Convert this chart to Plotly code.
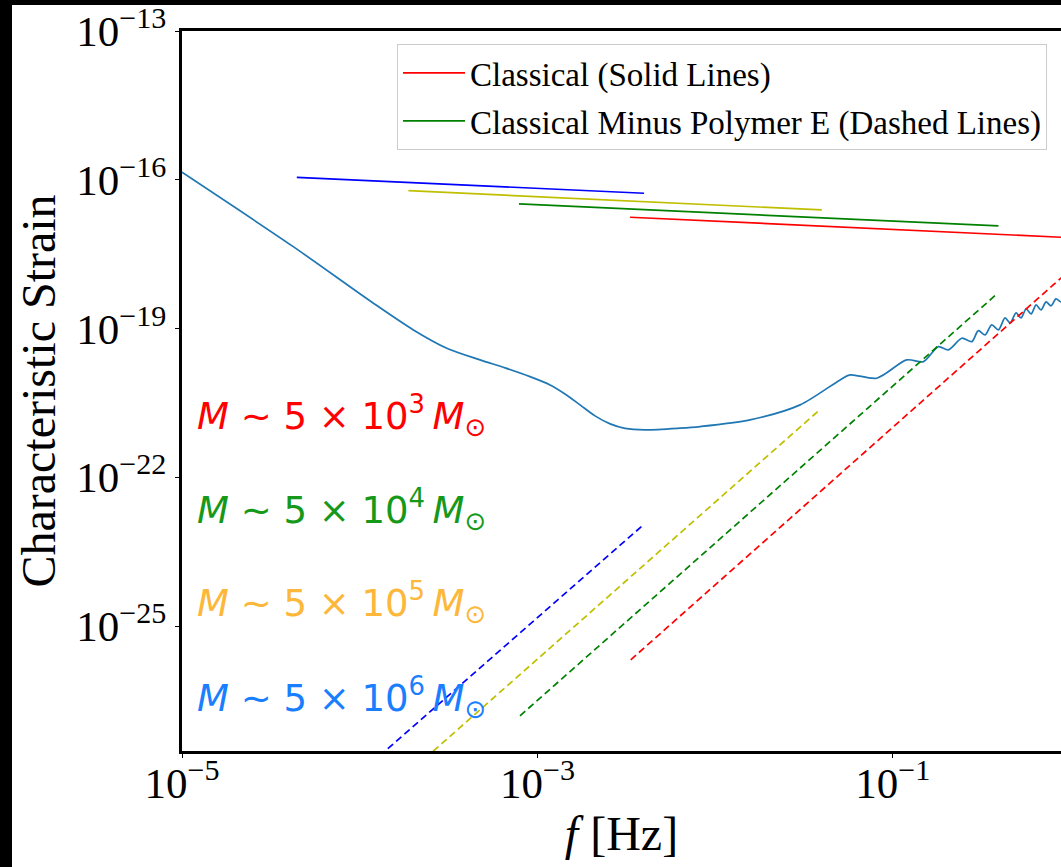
import numpy as np
import plotly.graph_objects as go

# ---------------- data (log10 values) ----------------
# Sensitivity curve
sens_log_f = [-5.0, -4.374, -3.923, -3.698, -3.510, -3.323, -3.182, -3.042, -2.929, -2.845, -2.760,
              -2.676, -2.591, -2.507, -2.394, -2.198, -2.085, -1.804, -1.522, -1.297, -1.241, -1.091,
              -0.922, -0.828, -0.744, -0.688, -0.612, -0.556, -0.519, -0.481, -0.444,
              -0.406, -0.369, -0.340, -0.307, -0.279, -0.250, -0.222, -0.194, -0.166,
              -0.138, -0.110, -0.082, -0.054, -0.030]
sens_log_h = [-15.85, -17.349, -18.490, -19.028, -19.397, -19.633, -19.794, -19.970, -20.137, -20.319, -20.540,
              -20.762, -20.923, -21.014, -21.044, -21.010, -20.978, -20.843, -20.540, -20.036, -19.935, -20.002,
              -19.633, -19.667, -19.365, -19.431, -19.196, -19.264, -19.042, -19.129, -18.927,
              -19.028, -18.786, -18.887, -18.685, -18.786, -18.605, -18.706, -18.524, -18.625,
              -18.464, -18.544, -18.403, -18.464, -18.35]

# Classical (solid) lines: [start, end]
solid_colors = ["#0000ff", "#bfbf00", "#008000", "#ff0000"]
solid_log_f = [[-4.354, -2.400], [-3.726, -1.400], [-3.104, -0.406], [-2.479, 0.0]]
solid_log_h = [[-15.950, -16.272], [-16.220, -16.609], [-16.488, -16.931], [-16.756, -17.168]]

# Classical minus polymer E (dashed) lines: [start, end]
dashed_log_f = [[-4.354, -2.404], [-3.726, -1.406], [-3.098, -0.410], [-2.475, 0.0]]
dashed_log_h = [[-29.08, -22.960], [-27.965, -20.621], [-26.810, -18.288], [-25.681, -17.81]]

legend_labels = ["Classical (Solid Lines)", "Classical Minus Polymer E (Dashed Lines)"]

mass_labels = ["3", "4", "5", "6"]
mass_colors = ["#ff0000", "#16991a", "#fdb73a", "#1a7fff"]

y_tick_exps = [-13, -16, -19, -22, -25]
x_tick_exps = [-5, -3, -1]

# ---------------- figure ----------------
fig = go.Figure()

serif = "Liberation Serif"

fig.add_trace(go.Scatter(
    x=10 ** np.array(sens_log_f), y=10 ** np.array(sens_log_h),
    mode="lines", line=dict(color="#1f77b4", width=1.7, shape="spline", smoothing=0.8),
    showlegend=False, hoverinfo="skip"))

for i in range(4):
    fig.add_trace(go.Scatter(
        x=10 ** np.array(solid_log_f[i]), y=10 ** np.array(solid_log_h[i]),
        mode="lines", line=dict(color=solid_colors[i], width=1.7),
        showlegend=False, hoverinfo="skip"))
    fig.add_trace(go.Scatter(
        x=10 ** np.array(dashed_log_f[i]), y=10 ** np.array(dashed_log_h[i]),
        mode="lines", line=dict(color=solid_colors[i], width=1.7, dash="7px,4px"),
        showlegend=False, hoverinfo="skip"))

# legend entries
fig.add_trace(go.Scatter(x=[None], y=[None], mode="lines", legendgroup="a",
                         line=dict(color="#ff0000", width=1.7), name=legend_labels[0]))
fig.add_trace(go.Scatter(x=[None], y=[None], mode="lines", legendgroup="b",
                         line=dict(color="#008000", width=1.7), name=legend_labels[1]))

# mass annotations
ann_y = [0.4653, 0.3361, 0.2069, 0.075]
annotations = []
for lab, col, yy in zip(mass_labels, mass_colors, ann_y):
    annotations.append(dict(
        xref="paper", yref="paper", x=0.0148, y=yy, xanchor="left", yanchor="middle",
        text="<i>M</i> ∼ 5 × 10<sup>" + lab + "</sup>\u2009<i>M</i><sub>⊙</sub>",
        showarrow=False, font=dict(family="DejaVu Sans", size=37, color=col)))

fig.update_layout(
    width=1061, height=867,
    margin=dict(l=182, r=0, t=31, b=116),
    paper_bgcolor="white", plot_bgcolor="white",
    annotations=annotations,
    legend=dict(x=0.2446, y=0.982, xanchor="left", yanchor="top",
                bgcolor="white", bordercolor="#cccccc", borderwidth=1,
                itemwidth=62, tracegroupgap=2,
                font=dict(family=serif, size=33, color="black")),
    shapes=[
        dict(type="rect", xref="paper", yref="paper", x0=-0.2071, x1=-0.1934,
             y0=-0.161, y1=1.043, fillcolor="black", line=dict(width=0), layer="above"),
        dict(type="rect", xref="paper", yref="paper", x0=-0.2071, x1=1.0,
             y0=1.036, y1=1.043, fillcolor="black", line=dict(width=0), layer="above"),
    ],
)

fig.update_xaxes(
    type="log", range=[-5, -0.054],
    tickvals=[10.0 ** e for e in x_tick_exps],
    ticktext=["10<sup>−%d</sup>" % (-e) for e in x_tick_exps],
    tickfont=dict(family=serif, size=43, color="black"),
    ticks="outside", ticklen=4, tickwidth=1, tickcolor="black",
    ticklabelstandoff=-12,
    showline=True, linecolor="black", linewidth=3, mirror=True,
    showgrid=False, zeroline=False,
    title=dict(text="<i>f</i> [Hz]", font=dict(family=serif, size=48, color="black"), standoff=10),
)
fig.update_yaxes(
    type="log", range=[-27.52, -13],
    tickvals=[10.0 ** e for e in y_tick_exps],
    ticktext=["10<sup>−%d</sup>" % (-e) for e in y_tick_exps],
    tickfont=dict(family=serif, size=43, color="black"),
    ticks="outside", ticklen=4, tickwidth=1, tickcolor="black",
    showline=True, linecolor="black", linewidth=3, mirror=False,
    showgrid=False, zeroline=False,
    title=dict(text="Characteristic Strain", font=dict(family=serif, size=48, color="black"), standoff=6),
)

fig.write_html("out.html", config={"displayModeBar": False},
               post_script="document.body.style.margin='0';")
